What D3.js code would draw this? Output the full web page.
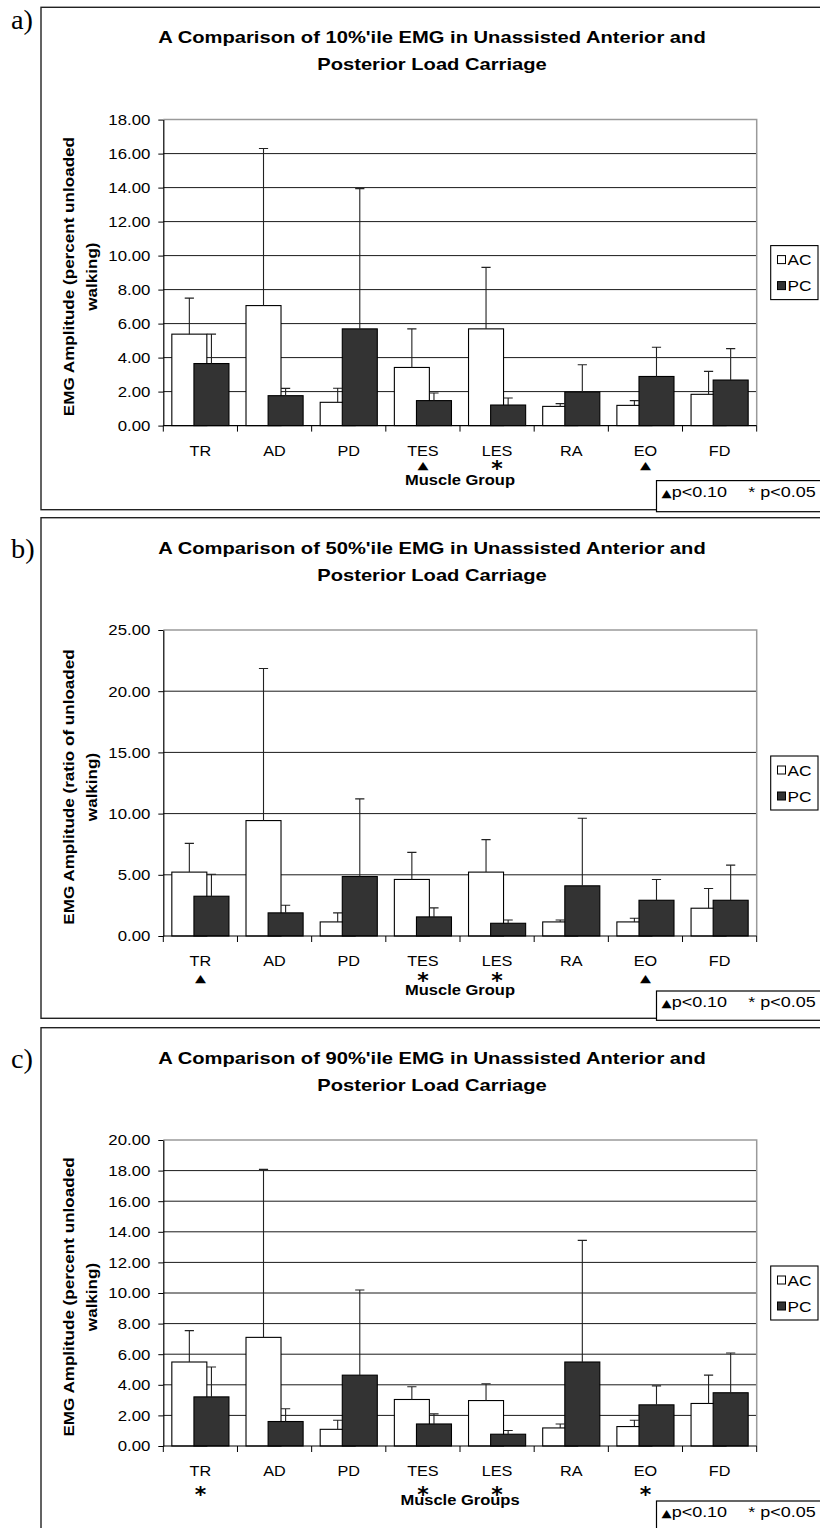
<!DOCTYPE html>
<html><head><meta charset="utf-8">
<script src="https://cdn.jsdelivr.net/npm/d3@7"></script>
<style>body{margin:0;background:#fff} svg{display:block}</style>
</head><body><div id="chart"></div>
<script>
// ---------------- DATA ----------------
const categories = ["TR","AD","PD","TES","LES","RA","EO","FD"];
const seriesNames = ["AC","PC"];

// a) 10%'ile EMG (percent unloaded walking): means and +SD
const acMean10 = [5.38, 7.06, 1.37, 3.42, 5.69, 1.13, 1.19, 1.84];
const acSD10   = [2.12, 9.24, 0.83, 2.27, 3.62, 0.16, 0.28, 1.35];
const pcMean10 = [3.65, 1.76, 5.69, 1.47, 1.21, 1.98, 2.89, 2.68];
const pcSD10   = [1.73, 0.43, 8.25, 0.45, 0.41, 1.60, 1.72, 1.85];
const sig10    = ["", "", "", "▲", "*", "", "▲", ""];
const yTicks10 = [0, 2, 4, 6, 8, 10, 12, 14, 16, 18];

// b) 50%'ile EMG (ratio of unloaded walking)
const acMean50 = [5.22, 9.43, 1.15, 4.62, 5.22, 1.15, 1.15, 2.27];
const acSD50   = [2.35, 12.43, 0.74, 2.21, 2.65, 0.16, 0.30, 1.61];
const pcMean50 = [3.25, 1.89, 4.86, 1.56, 1.04, 4.10, 2.92, 2.92];
const pcSD50   = [1.80, 0.62, 6.34, 0.74, 0.27, 5.52, 1.70, 2.87];
const sig50    = ["▲", "", "", "*", "*", "", "▲", ""];
const yTicks50 = [0, 5, 10, 15, 20, 25];

// c) 90%'ile EMG (percent unloaded walking)
const acMean90 = [5.49, 7.10, 1.09, 3.04, 2.97, 1.18, 1.27, 2.78];
const acSD90   = [2.05, 10.98, 0.59, 0.83, 1.10, 0.26, 0.41, 1.85];
const pcMean90 = [3.21, 1.60, 4.63, 1.44, 0.77, 5.49, 2.69, 3.48];
const pcSD90   = [1.95, 0.83, 5.57, 0.66, 0.24, 7.95, 1.24, 2.60];
const sig90    = ["*", "", "", "*", "*", "", "*", ""];
const yTicks90 = [0, 2, 4, 6, 8, 10, 12, 14, 16, 18, 20];

const panelLabels = ["a)", "b)", "c)"];
const titles = [
  ["A Comparison of 10%'ile EMG in Unassisted Anterior and", "Posterior Load Carriage"],
  ["A Comparison of 50%'ile EMG in Unassisted Anterior and", "Posterior Load Carriage"],
  ["A Comparison of 90%'ile EMG in Unassisted Anterior and", "Posterior Load Carriage"]
];
const yLabels = [
  ["EMG Amplitude (percent unloaded", "walking)"],
  ["EMG Amplitude (ratio of unloaded", "walking)"],
  ["EMG Amplitude (percent unloaded", "walking)"]
];
const xLabels = ["Muscle Group", "Muscle Group", "Muscle Groups"];
const footTri = "p<0.10";
const footStar = "* p<0.05";

// ---------------- LAYOUT ----------------
const W = 820, H = 1528;
const SANS = "'Liberation Sans', Arial, Helvetica, sans-serif";
const SERIF = "'Liberation Serif', 'Times New Roman', serif";
const panels = [
  {top: 7.3,   bottom: 509.7,  labelY: 29,   mean:[acMean10,pcMean10], sd:[acSD10,pcSD10], sig:sig10, ticks:yTicks10, triY:39, starY:37},
  {top: 517.7, bottom: 1018.3, labelY: 558,  mean:[acMean50,pcMean50], sd:[acSD50,pcSD50], sig:sig50, ticks:yTicks50, triY:41, starY:39},
  {top: 1027.7,bottom: 1545,   labelY: 1068, mean:[acMean90,pcMean90], sd:[acSD90,pcSD90], sig:sig90, ticks:yTicks90, triY:43, starY:43}
];

const svg = d3.select("#chart").append("svg").attr("width", W).attr("height", H);
svg.append("rect").attr("width", W).attr("height", H).attr("fill", "#fff");

function addText(parent, x, y, str, o = {}) {
  return parent.append("text")
    .attr("transform", `translate(${x},${y})${o.rot ? ` rotate(${o.rot})` : ""} scale(${o.sx || 1},1)`)
    .attr("text-anchor", o.anchor || "start")
    .attr("font-family", o.family || SANS)
    .attr("font-size", o.size || 14)
    .attr("font-weight", o.weight || "normal")
    .attr("fill", o.fill || "#000")
    .text(str);
}

const X0 = 163.3, X1 = 756.7;
const x = d3.scaleBand().domain(categories).range([X0, X1]).padding(0);
const bw = x.bandwidth();
const barW = bw * 0.472, off = bw * 0.149;
const fills = ["#ffffff", "#333333"];

panels.forEach((p, i) => {
  const g = svg.append("g");
  const T = p.top;
  const plotTop = T + 112.3, plotBot = plotTop + 306;
  const y = d3.scaleLinear().domain([0, d3.max(p.ticks)]).range([plotBot, plotTop]);
  const cy = (plotTop + plotBot) / 2;

  // panel border
  g.append("rect").attr("x", 41).attr("y", T).attr("width", 781).attr("height", p.bottom - T)
    .attr("fill", "none").attr("stroke", "#222").attr("stroke-width", 1.4);

  // panel label
  addText(g, 11, p.labelY, panelLabels[i], {family: SERIF, size: 27, sx: 1.05});

  // title
  titles[i].forEach((t, k) => addText(g, 432, T + 36 + k * 27, t, {anchor: "middle", weight: "bold", size: 16, sx: 1.26}));

  // gridlines
  p.ticks.slice(1, -1).forEach(v => {
    g.append("line").attr("x1", X0).attr("x2", X1).attr("y1", y(v)).attr("y2", y(v))
      .attr("stroke", "#1a1a1a").attr("stroke-width", 1);
  });
  // plot area border (top + right), grey
  g.append("path").attr("d", `M${X0},${y(d3.max(p.ticks))}H${X1}V${y(0)}`)
    .attr("fill", "none").attr("stroke", "#9a9a9a").attr("stroke-width", 1.5);

  // y axis
  const ya = g.append("g").attr("transform", `translate(${X0},0)`)
    .call(d3.axisLeft(y).tickValues(p.ticks).tickFormat(d3.format(".2f")).tickSize(5).tickSizeOuter(0).tickPadding(8));
  ya.select(".domain").attr("stroke", "#000").attr("stroke-width", 1.2);
  ya.selectAll(".tick line").attr("stroke", "#000");
  ya.selectAll(".tick text").attr("font-family", SANS).attr("font-size", 15).attr("fill", "#000")
    .attr("x", -13 / 1.12).attr("transform", "scale(1.12,1)");

  // bars
  [0, 1].forEach(s => {
    g.append("g").selectAll("rect").data(categories).join("rect")
      .attr("x", c => x(c) + bw / 2 + (s ? off : -off) - barW / 2)
      .attr("y", (c, j) => y(p.mean[s][j]))
      .attr("width", barW)
      .attr("height", (c, j) => y(0) - y(p.mean[s][j]))
      .attr("fill", fills[s]).attr("stroke", "#000").attr("stroke-width", 1.1);
  });
  // error bars (upper only)
  [0, 1].forEach(s => {
    const eg = g.append("g").attr("stroke", "#222").attr("stroke-width", 1.1).attr("fill", "none");
    categories.forEach((c, j) => {
      const cx = x(c) + bw / 2 + (s ? off : -off);
      const y1 = y(p.mean[s][j]), y2 = y(p.mean[s][j] + p.sd[s][j]);
      eg.append("path").attr("d", `M${cx},${y1}V${y2}M${cx - 4.6},${y2}H${cx + 4.6}`);
    });
  });

  // x axis
  g.append("line").attr("x1", X0).attr("x2", X1).attr("y1", y(0)).attr("y2", y(0))
    .attr("stroke", "#000").attr("stroke-width", 1.2);
  const edges = categories.map(c => x(c)).concat([X1]);
  edges.forEach(e => g.append("line").attr("x1", e).attr("x2", e).attr("y1", y(0)).attr("y2", y(0) + 6)
    .attr("stroke", "#000").attr("stroke-width", 1));
  categories.forEach((c, j) => {
    const cx = x(c) + bw / 2;
    addText(g, cx, y(0) + 30, c, {anchor: "middle", size: 14.5, sx: 1.12});
    if (p.sig[j] === "▲") {
      addText(g, cx, y(0) + p.triY + 4.5, "▲", {anchor: "middle", size: 11, sx: 1.3, family: "'DejaVu Sans', sans-serif"});
    } else if (p.sig[j] === "*") {
      addText(g, cx, y(0) + p.starY + 13, "*", {anchor: "middle", size: 22, weight: "bold", family: "'DejaVu Sans', sans-serif"});
    }
  });
  addText(g, (X0 + X1) / 2, y(0) + 59, xLabels[i], {anchor: "middle", size: 14, weight: "bold", sx: 1.18});

  // y label
  yLabels[i].forEach((t, k) => addText(g, 74 + k * 23, cy + 4, t, {anchor: "middle", rot: -90, size: 14, weight: "bold", sx: 1.22}));

  // legend
  const lg = g.append("g");
  lg.append("rect").attr("x", 770.7).attr("y", cy - 27).attr("width", 47.3).attr("height", 54)
    .attr("fill", "#fff").attr("stroke", "#000").attr("stroke-width", 1.1);
  seriesNames.forEach((nm, s) => {
    const ry = cy + (s ? 13 : -13);
    lg.append("rect").attr("x", 777.5).attr("y", ry - 4).attr("width", 8).attr("height", 8)
      .attr("fill", fills[s]).attr("stroke", "#000").attr("stroke-width", 1);
    addText(lg, 787.5, ry + 5.5, nm, {size: 15, sx: 1.15});
  });

  // footer significance key
  const fy = y(0) + 55;
  g.append("rect").attr("x", 656.5).attr("y", fy).attr("width", 170).attr("height", p.bottom - fy + 2)
    .attr("fill", "#fff").attr("stroke", "#000").attr("stroke-width", 1.2);
  const ft = addText(g, 661.5, fy + 16, "", {size: 15, sx: 1.2});
  ft.append("tspan").attr("font-family", "'DejaVu Sans', sans-serif").attr("font-size", 11).text("▲");
  ft.append("tspan").text(footTri);
  addText(g, 748.3, fy + 16, footStar, {size: 15, sx: 1.2});
});
</script></body></html>
